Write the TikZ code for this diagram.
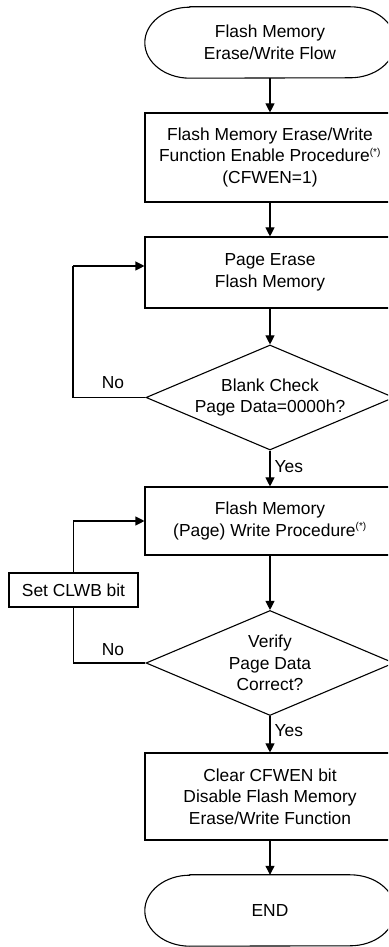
\documentclass[tikz,border=0pt]{standalone}
\usepackage{fontspec}
\setmainfont{Liberation Sans}
\usetikzlibrary{shapes.geometric,arrows.meta}
\newcommand{\fnmark}{\textsuperscript{\fontsize{10}{10}\selectfont(*)}}
\newcommand{\termoutline}[1]{%
  \draw[line width=1.1pt] ([xshift=45pt]#1.north west) -- ([xshift=-45pt]#1.north east)
    arc[start angle=90, end angle=-90, x radius=45pt, y radius=35.5pt]
    -- ([xshift=45pt]#1.south west)
    arc[start angle=270, end angle=90, x radius=45pt, y radius=35.5pt] -- cycle;}
\begin{document}
\begin{tikzpicture}[x=1pt,y=1pt,
  every node/.style={font=\fontsize{17.4}{21.5}\selectfont, align=center, inner sep=0pt},
  procbox/.style={draw, line width=1.1pt, minimum width=250pt},
  term/.style={minimum width=250pt, minimum height=71pt},
  decision/.style={draw, line width=1.1pt, shape=diamond, aspect=2.36, minimum width=248pt, minimum height=105pt},
  flow/.style={line width=1.1pt, -{Triangle[length=9pt,width=9pt]}},
  line/.style={line width=1.1pt}]
\useasboundingbox (0,0) rectangle (388,947);
\clip (0,0) rectangle (388,947);

\node[term] (start) at (270,904.5) {Flash Memory\\Erase/Write Flow};
\termoutline{start}
\node[procbox, minimum height=89pt] (b1) at (270,789.5) {Flash Memory Erase/Write\\Function Enable Procedure\fnmark\\(CFWEN=1)};
\node[procbox, minimum height=71pt] (b2) at (270,674.5) {Page Erase\\Flash Memory};
\node[decision] (d1) at (270,549.5) {Blank Check\\Page Data=0000h?};
\node[procbox, minimum height=68pt] (b3) at (270,426) {Flash Memory\\(Page) Write Procedure\fnmark};
\node[decision] (d2) at (270,284) {Verify\\Page Data\\Correct?};
\node[procbox, minimum height=87pt] (b4) at (270,150.5) {Clear CFWEN bit\\Disable Flash Memory\\Erase/Write Function};
\node[term] (end) at (270,36.5) {END};
\termoutline{end}
\node[draw, line width=1.1pt, minimum width=129pt, minimum height=34pt] (clwb) at (73.5,357) {Set CLWB bit};

\coordinate (l1) at (73,681);

\draw[flow] (start) -- (b1);
\draw[flow] (b1) -- (b2);
\draw[flow] (b2) -- (d1);
\draw[flow] (d1) -- node[right=4pt, pos=0.45] (yes1) {Yes} (b3);
\draw[flow] (b3) -- (d2);
\draw[flow] (d2) -- node[right=4pt, pos=0.4] (yes2) {Yes} (b4);
\draw[flow] (b4) -- (end);

\draw[line] (d1.west) -| (l1);
\draw[flow] (l1) -- (l1 -| b2.west);
\node (no1) at (113,564) {No};

\draw[line] (d2.west) -| (clwb.south);
\draw[flow] (clwb.north) |- (b3.west);
\node (no2) at (113,297) {No};
\end{tikzpicture}
\end{document}
